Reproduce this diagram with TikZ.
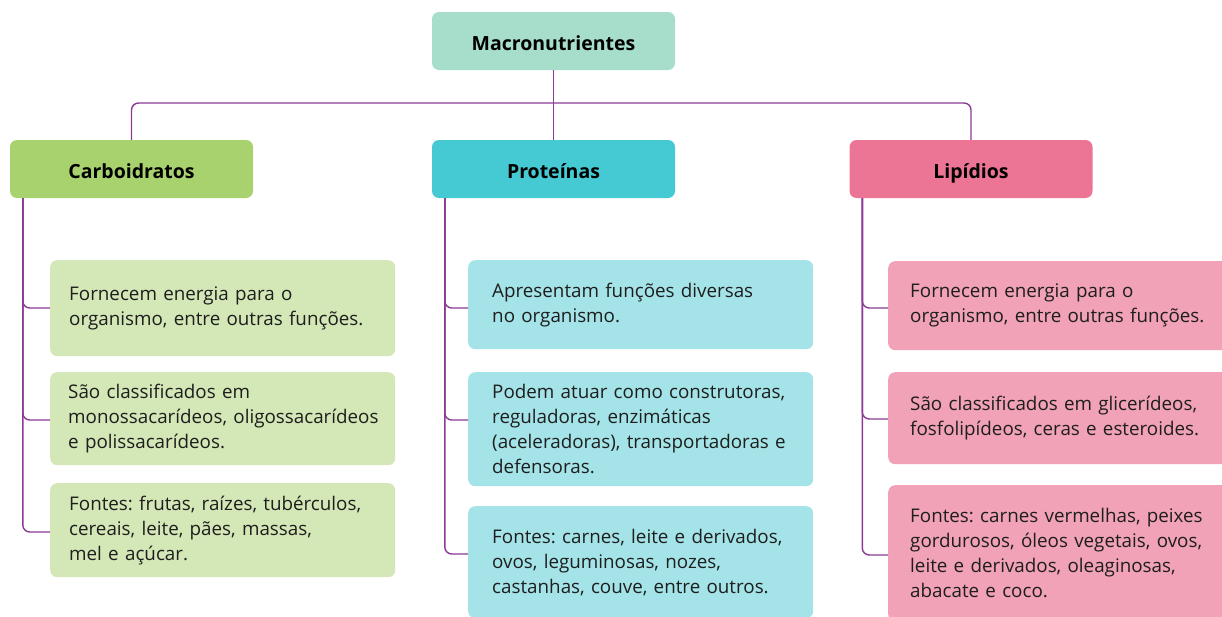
\documentclass[tikz,border=0pt]{standalone}
\usepackage{fontspec}
\setmainfont{Open Sans}
\usetikzlibrary{calc}
\definecolor{macroC}{HTML}{A6DECB}
\definecolor{carbC}{HTML}{A8D26E}
\definecolor{carbL}{HTML}{D4E7B6}
\definecolor{protC}{HTML}{45CAD3}
\definecolor{protL}{HTML}{A4E4E8}
\definecolor{lipC}{HTML}{EC7595}
\definecolor{lipL}{HTML}{F1A2B6}
\definecolor{lineC}{HTML}{8B3A96}
\definecolor{txtC}{HTML}{1E1E1E}
\tikzset{
  head/.style={rounded corners=7pt, minimum width=243pt, minimum height=58pt, inner sep=0pt,
    text height=20pt, text depth=2pt,
    font=\fontsize{19.5}{23}\selectfont\bfseries, text=black},
  item/.style={rounded corners=7pt, anchor=north west, inner xsep=0pt, inner ysep=0pt,
    text width=345pt, align=left, font=\fontsize{18.8}{25}\selectfont, text=txtC,
    execute at begin node={\frenchspacing\leftskip=#1\rightskip=0pt plus 1fil}},
  conn/.style={draw=lineC, line width=1.4pt, rounded corners=7pt},
}
\begin{document}
\begin{tikzpicture}[x=1pt,y=-1pt]
\useasboundingbox (0,0) rectangle (1222,616);
\clip (0,0) rectangle (1222,616);
\fill[white] (0,0) rectangle (1222,616);

\node[head, fill=macroC] (macro) at (553.5,41) {Macronutrientes};
\node[head, fill=carbC] (carb) at (131.5,169) {Carboidratos};
\node[head, fill=protC] (prot) at (553.5,169) {Proteínas};
\node[head, fill=lipC] (lip) at (971,169) {Lipídios};

\coordinate (bar) at (553.5,103);
\draw[conn] (carb.north) |- (bar) -| (lip.north);
\draw[conn] (macro.south) -- (prot.north);

% Carboidratos
\node[item=19pt, fill=carbL, minimum height=96pt] (c1) at (50,260) {Fornecem energia para o\\organismo, entre outras funções.};
\node[item=18pt, fill=carbL, minimum height=93pt] (c2) at (50,372) {São classificados em\\monossacarídeos, oligossacarídeos\\e polissacarídeos.};
\node[item=19pt, fill=carbL, minimum height=94pt] (c3) at (50,483) {Fontes: frutas, raízes, tubérculos,\\cereais, leite, pães, massas,\\mel e açúcar.};

% Proteínas
\node[item=24pt, fill=protL, minimum height=89pt] (p1) at (468,260) {Apresentam funções diversas\\no organismo.};
\node[item=24pt, fill=protL, minimum height=114pt] (p2) at (468,372) {Podem atuar como construtoras,\\reguladoras, enzimáticas\\(aceleradoras), transportadoras e\\defensoras.};
\node[item=24pt, fill=protL, minimum height=112pt] (p3) at (468,506) {Fontes: carnes, leite e derivados,\\ovos, leguminosas, nozes,\\castanhas, couve, entre outros.};

% Lipídios
\node[item=22pt, fill=lipL, minimum height=89pt, text width=360pt] (l1) at (888,261) {Fornecem energia para o\\organismo, entre outras funções.};
\node[item=22pt, fill=lipL, minimum height=92pt, text width=360pt] (l2) at (888,372) {São classificados em glicerídeos,\\fosfolipídeos, ceras e esteroides.};
\node[item=22pt, fill=lipL, minimum height=136pt, text width=360pt] (l3) at (888,485) {Fontes: carnes vermelhas, peixes\\gordurosos, óleos vegetais, ovos,\\leite e derivados, oleaginosas,\\abacate e coco.};

% trunks
\foreach \h/\b/\d in {carb/c1/48, carb/c2/48, carb/c3/49, prot/p1/48, prot/p2/48, prot/p3/48, lip/l1/47, lip/l2/47, lip/l3/70}{
  \draw[conn] ([xshift=13pt]\h.south west) |- ([yshift=-\d pt]\b.north west);
}
\end{tikzpicture}
\end{document}
